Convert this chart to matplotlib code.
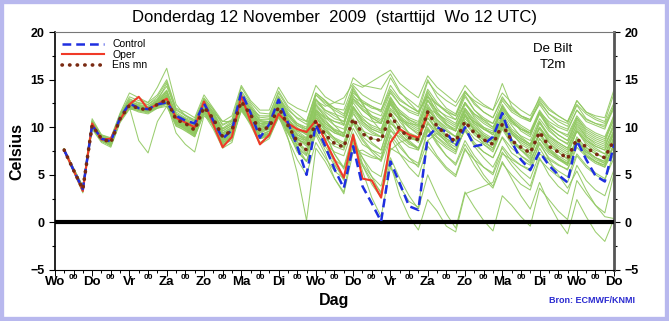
import numpy as np
import matplotlib
matplotlib.use("Agg")
import matplotlib.pyplot as plt
from matplotlib.patches import Rectangle

plt.rcParams['font.family'] = ['Liberation Sans', 'DejaVu Sans']

# --- data (6-hourly, start Wo 12 UTC, first value at +6h) ---
hours = np.arange(6, 361, 6)

day_names = ["Wo", "Do", "Vr", "Za", "Zo", "Ma", "Di", "Wo",
             "Do", "Vr", "Za", "Zo", "Ma", "Di", "Wo", "Do"]

oper = [7.6, 5.5, 3.3, 10.4, 8.7, 8.8, 10.8, 12.4, 13.2, 11.9, 12.4, 13.0,
        11.0, 10.5, 10.0, 12.7, 10.3, 7.9, 9.0, 13.3, 10.6, 8.2, 9.2, 11.4,
        10.4, 9.8, 9.5, 10.7, 8.6, 6.6, 4.7, 9.2, 4.6, 4.4, 2.6, 8.4,
        9.8, 9.2, 8.9, 11.4]

control = [7.6, 5.5, 3.5, 10.2, 8.8, 8.5, 11.0, 12.5, 12.0, 11.9, 12.4, 12.6,
           11.2, 10.7, 10.4, 12.5, 10.7, 8.8, 9.7, 13.7, 11.5, 8.9, 10.3, 12.9,
           10.5, 8.0, 5.0, 10.3, 8.0, 5.6, 3.6, 8.0, 3.8, 2.0, 0.1, 6.4,
           4.1, 1.7, 1.3, 9.0, 10.0, 9.5, 8.0, 10.0, 8.0, 8.2, 9.0, 11.5,
           8.5, 6.6, 5.5, 7.4, 6.0, 5.0, 4.2, 8.6, 6.6, 4.9, 4.3, 8.2]

ens_mean = [7.6, 5.5, 3.5, 10.2, 8.8, 8.4, 10.9, 12.3, 12.0, 11.8, 12.4, 12.9,
            10.8, 10.4, 9.7, 12.1, 10.9, 9.0, 9.7, 12.7, 11.3, 9.7, 10.0, 12.1,
            10.2, 8.5, 7.6, 10.7, 9.2, 8.3, 7.9, 10.9, 9.3, 8.8, 8.6, 11.3,
            9.8, 8.9, 8.7, 11.6, 10.1, 9.2, 8.5, 10.6, 9.4, 8.7, 8.2, 10.3,
            8.6, 7.9, 7.3, 9.5, 8.0, 7.4, 6.7, 8.8, 7.9, 7.2, 6.8, 8.7]

members = [
    [7.7,5.6,3.6,10.5, 9.0,8.6,11.2,12.8, 12.3,12.0,12.6,13.4, 11.2,10.8,10.1,12.6, 11.4,9.6,10.2,13.2, 11.8,10.4,10.6,12.8, 11.0,9.6,8.9,11.8, 10.4,9.7,9.4,12.6, 11.2,10.6,10.4,13.1, 11.6,10.8,10.2,12.9, 11.4,10.3,9.8,11.8, 10.4,9.8,9.2,11.4, 9.8,9.1,8.6,10.9, 9.6,8.8,8.3,10.2, 9.0,8.4,8.0,10.1],
    [7.5,5.4,3.2,9.9, 8.5,8.1,10.6,12.0, 11.6,11.4,12.0,12.4, 10.3,9.8,9.1,11.6, 10.2,8.4,9.0,12.1, 10.6,9.0,9.3,11.4, 9.4,7.6,6.4,9.8, 8.3,7.4,7.0,9.9, 8.2,7.6,7.2,10.1, 8.7,7.9,7.6,10.6, 9.3,8.5,7.9,9.6, 8.2,7.4,6.8,8.9, 7.3,6.6,6.0,8.2, 6.8,6.1,5.5,7.9, 6.9,6.2,5.8,7.6],
    [7.7,5.7,3.8,10.9, 9.2,8.9,11.5,13.6, 13.1,12.6,14.2,16.2, 12.4,11.2,10.8,13.0, 11.9,10.3,10.8,14.2, 12.6,11.5,11.4,13.6, 12.0,10.9,10.3,13.4, 12.6,12.0,11.8,14.4, 13.4,12.8,12.4,15.2, 13.6,12.9,12.1,15.0, 13.2,12.0,11.4,13.8, 12.4,11.6,11.0,13.2, 11.8,11.2,10.6,12.8, 11.4,10.6,10.1,12.3, 10.9,10.4,10.0,12.0],
    [7.6,5.5,3.4,10.1, 8.7,8.2,10.8,12.2, 11.9,11.6,12.2,12.8, 10.6,10.0,9.4,11.9, 10.4,8.6,9.2,12.4, 10.9,9.0,9.6,11.9, 8.9,5.2,0.2,7.8, 6.4,4.6,3.2,8.4, 6.8,5.4,4.8,9.2, 7.9,6.8,6.2,9.8, 8.9,8.0,7.4,10.9, 9.8,9.0,8.6,11.2, 9.4,8.2,7.6,10.0, 8.4,7.6,7.0,9.6, 8.2,7.4,6.6,9.1],
    [7.6,5.5,3.5,10.3, 8.9,8.3,10.9,12.3, 12.0,11.9,12.3,12.6, 10.9,10.5,9.8,12.0, 10.7,8.8,9.5,12.5, 11.0,9.5,9.8,11.6, 9.8,8.0,7.1,9.6, 7.6,6.0,4.8,8.2, 6.0,4.4,3.2,6.8, 4.6,2.8,1.4,5.0, 2.8,0.9,-0.6,3.2, 1.6,0.2,-0.9,2.8, 1.8,0.6,-0.4,3.6, 2.4,1.2,0.3,4.4, 3.0,1.8,1.0,5.2],
    [7.7,5.6,3.6,10.4, 8.9,8.5,11.0,12.6, 12.2,12.1,12.7,13.6, 11.2,10.7,10.0,12.4, 11.2,9.3,9.9,12.9, 11.6,10.1,10.3,12.4, 10.8,9.6,9.4,12.8, 12.2,12.6,13.1,14.6, 14.2,14.8,15.4,16.0, 14.6,13.8,13.1,15.4, 14.2,13.4,12.6,14.4, 13.2,12.4,11.8,13.6, 12.6,11.8,11.2,13.0, 11.8,11.2,10.6,12.4, 11.4,10.8,10.4,12.6],
    [7.6,5.4,3.3,10.0, 8.6,8.0,10.7,12.1, 11.7,11.5,12.1,12.5, 10.2,9.6,9.0,11.4, 9.8,7.8,8.4,11.9, 10.2,8.2,8.8,11.1, 9.6,8.6,8.4,10.6, 8.6,6.2,4.4,8.8, 6.0,4.0,2.6,7.6, 8.4,8.8,8.6,11.0, 9.6,8.8,8.2,10.4, 9.2,8.4,7.8,10.2, 8.6,7.8,7.2,9.4, 7.8,7.0,6.4,8.6, 7.4,6.6,6.2,8.0],
    [7.7,5.6,3.7,10.6, 9.1,8.7,11.3,13.0, 12.5,12.4,13.0,14.3, 11.8,11.2,10.6,12.9, 11.6,9.9,10.6,13.6, 12.2,10.8,10.9,13.1, 11.6,10.4,9.8,12.9, 11.6,10.9,10.6,13.4, 12.0,11.2,10.8,13.2, 11.6,10.6,10.0,12.4, 10.8,9.8,9.0,11.2, 9.6,8.6,7.8,10.2, 8.6,7.6,6.8,9.4, 7.8,6.8,6.0,8.8, 7.2,6.4,5.8,8.2],
    [7.6,5.5,3.5,10.1, 8.7,8.2,10.9,12.1, 8.6,7.3,10.6,12.2, 10.5,10.0,9.3,11.7, 10.6,8.8,9.4,12.3, 11.0,9.6,9.9,12.0, 10.3,8.8,8.0,11.2, 9.6,8.9,8.4,11.4, 10.2,9.4,9.0,12.0, 10.8,10.0,9.4,12.2, 10.6,9.6,9.0,11.2, 9.8,8.8,8.2,10.6, 9.2,8.4,7.8,10.0, 8.6,7.8,7.2,9.6, 8.4,7.6,7.2,9.4],
    [7.5,5.3,3.1,9.8, 8.4,7.9,10.5,11.9, 11.8,11.7,12.2,12.9, 10.4,9.8,9.2,11.8, 10.0,8.1,8.8,11.7, 10.4,8.8,9.2,11.2, 9.8,8.9,8.6,11.0, 10.0,9.4,9.1,11.8, 10.4,9.6,9.0,11.4, 9.8,8.6,7.8,10.0, 8.4,7.0,6.0,8.2, 6.6,5.0,3.8,6.4, 4.6,2.8,1.4,4.2, 2.0,0.2,-1.2,2.4, 0.6,-1.0,-2.0,0.4],
    [7.7,5.5,3.6,10.3, 8.8,8.5,11.1,12.6, 12.1,12.0,12.8,14.6, 11.6,11.0,10.6,12.8, 11.6,10.6,10.6,13.0, 12.0,11.2,11.2,13.8, 12.2,11.4,10.6,13.6, 12.8,11.6,10.2,14.2, 12.6,10.8,9.6,12.8, 11.0,9.2,8.4,11.6, 10.2,9.0,8.6,12.0, 10.8,9.8,9.4,12.4, 10.8,9.6,9.0,11.4, 9.8,8.8,8.2,10.8, 9.4,8.8,8.4,11.0],
    [7.6,5.5,3.4,10.2, 8.8,8.3,10.9,12.3, 11.9,11.8,12.4,12.9, 10.7,10.3,9.6,12.1, 10.8,8.9,9.6,12.6, 11.2,9.6,10.0,12.2, 10.0,8.4,7.2,10.6, 9.4,7.2,5.6,9.0, 5.4,2.6,0.6,5.8, 3.8,2.2,1.6,8.6, 9.4,8.6,8.2,11.4, 9.6,8.2,7.4,9.8, 8.2,7.0,6.2,8.8, 7.6,6.6,6.0,8.6, 7.6,6.8,6.4,8.9],
    [7.7,5.6,3.6,10.4, 8.9,8.4,11.0,12.5, 12.2,12.0,12.6,13.2, 11.0,10.6,9.9,12.3, 11.0,9.2,9.8,12.8, 11.4,10.0,10.1,12.4, 10.8,9.8,9.6,13.4, 12.4,11.8,11.2,13.8, 12.6,12.0,11.8,14.4, 13.0,12.2,11.6,14.8, 13.6,12.8,12.2,13.8, 12.6,11.6,11.0,13.0, 12.0,11.2,10.8,12.4, 11.0,10.2,9.8,11.8, 10.8,10.4,10.2,12.2],
    [7.6,5.4,3.3,10.0, 8.6,8.1,10.7,12.0, 11.8,11.6,12.0,12.2, 10.1,9.7,9.0,11.5, 10.1,8.2,8.9,12.0, 10.5,8.9,9.3,11.3, 9.6,8.2,7.6,10.2, 8.8,8.0,7.6,10.6, 9.0,8.2,7.6,10.8, 9.4,8.4,7.6,9.8, 8.2,7.0,6.2,8.6, 7.0,5.8,5.0,7.4, 6.0,4.8,3.8,6.8, 5.0,3.8,3.0,6.0, 4.4,3.4,2.8,5.6],
    [7.6,5.5,3.5,10.2, 8.8,8.4,11.0,12.4, 12.0,11.9,12.5,13.8, 11.2,10.2,9.4,11.8, 10.6,8.6,9.0,12.4, 10.8,8.8,9.0,11.2, 8.8,6.6,5.0,8.4, 6.8,5.4,4.6,8.0, 7.2,6.8,6.6,10.4, 9.6,9.0,8.8,12.0, 11.4,10.8,10.2,12.6, 11.4,10.6,10.0,12.2, 10.6,9.8,9.2,11.6, 10.0,9.2,8.6,11.0, 9.6,9.0,8.6,11.4],
    [7.7,5.7,3.8,10.7, 9.2,8.8,11.4,13.2, 12.8,12.6,13.4,15.0, 12.0,11.6,11.0,13.4, 12.0,10.6,11.2,14.4, 12.8,11.8,11.8,14.2, 12.6,12.0,11.6,14.4, 13.2,12.6,12.4,15.2, 14.4,14.2,14.0,15.6, 13.8,12.6,11.6,13.4, 11.6,10.4,9.6,11.8, 10.2,9.2,8.6,10.8, 9.6,8.8,8.2,10.6, 9.2,8.4,7.8,10.4, 9.0,8.2,7.8,10.6],
    [7.5,5.4,3.3,10.0, 8.6,8.2,10.8,12.2, 11.9,11.8,12.3,12.7, 10.5,9.9,9.2,11.7, 10.3,8.4,9.1,12.2, 10.6,8.8,9.2,11.4, 9.6,7.4,6.4,9.4, 8.0,6.6,5.8,8.6, 6.8,4.8,3.0,6.2, 2.8,0.6,-0.8,2.4, 1.2,-0.4,-1.0,3.0, 3.4,3.8,4.2,7.2, 6.6,6.0,5.6,8.4, 7.2,6.6,6.2,9.0, 7.8,7.2,6.8,9.6],
    [7.6,5.5,3.5,10.2, 8.8,8.4,10.9,12.3, 12.0,11.8,12.4,13.0, 10.8,10.4,9.7,12.1, 10.9,9.0,9.7,12.7, 11.3,9.7,10.0,12.1, 10.2,8.5,7.6,10.7, 9.2,8.3,7.9,10.9, 9.3,8.8,8.6,11.3, 9.8,8.9,8.7,11.6, 10.1,9.2,8.5,10.6, 9.4,8.7,8.2,10.3, 8.6,7.9,7.3,9.5, 8.0,7.4,6.7,8.8, 7.9,7.2,6.8,8.7],
    [7.7,5.6,3.7,10.5, 9.0,8.6,11.2,12.7, 12.4,12.2,12.9,13.9, 11.4,10.9,10.3,12.7, 11.3,9.6,10.2,13.4, 12.0,10.7,10.8,13.0, 11.4,10.2,9.6,12.4, 11.0,10.2,9.8,12.2, 10.6,9.8,9.4,11.6, 10.2,9.4,9.0,11.8, 10.8,10.0,9.6,12.4, 11.4,10.8,10.4,12.8, 11.6,11.0,10.6,12.6, 11.4,10.8,10.4,12.8, 11.6,11.2,11.0,14.0],
    [7.6,5.5,3.4,10.1, 8.7,8.3,10.8,12.2, 11.9,11.7,12.3,12.8, 10.6,10.1,9.5,11.9, 10.6,8.7,9.3,12.3, 11.0,9.2,9.6,11.8, 10.0,8.0,6.4,9.2, 7.2,4.6,3.0,7.4, 7.6,7.0,6.6,9.6, 9.0,8.2,7.8,10.4, 9.6,8.8,8.2,10.6, 9.8,9.0,8.4,10.6, 8.8,7.6,6.6,8.4, 6.6,5.0,3.6,5.4, 3.4,1.8,0.6,0.4],
    [7.6,5.6,3.6,10.3, 8.9,8.5,11.1,12.5, 12.1,12.0,12.7,13.4, 11.1,10.7,10.2,12.5, 11.1,9.4,10.0,13.0, 11.6,10.2,10.5,12.9, 11.2,10.0,9.2,12.0, 10.8,9.6,9.0,12.0, 11.0,10.0,9.6,12.8, 11.8,11.0,10.6,13.6, 12.4,11.6,11.2,13.6, 12.8,12.2,11.8,14.6, 12.2,11.2,10.8,13.2, 12.0,11.2,10.6,12.8, 11.6,11.0,10.6,13.6],
    [7.6,5.5,3.5,10.2, 8.8,8.4,11.0,12.4, 12.0,11.8,12.3,12.7, 10.6,10.2,9.6,12.0, 10.5,8.2,8.6,12.0, 10.4,8.4,9.0,11.0, 9.4,7.8,7.0,10.2, 9.2,7.2,5.8,9.4, 6.2,4.8,3.8,7.8, 7.2,6.4,6.0,9.6, 8.6,7.8,7.2,10.0, 8.8,8.2,7.6,10.0, 8.4,7.6,7.0,9.2, 7.6,6.8,6.2,8.4, 7.0,6.4,6.0,8.2],
    [7.7,5.7,3.7,10.6, 9.1,8.7,11.2,12.9, 12.6,12.4,13.2,14.8, 11.9,11.3,10.7,13.1, 11.8,10.2,10.7,13.8, 12.4,11.0,11.1,13.3, 11.4,10.2,9.8,12.6, 11.8,11.4,11.0,13.6, 12.8,12.2,11.6,13.8, 12.4,11.6,11.2,13.8, 12.0,11.0,10.4,12.6, 11.2,10.4,9.8,12.0, 10.4,9.8,9.4,11.6, 10.2,9.6,9.2,11.2, 10.0,9.4,9.0,11.2],
    [7.6,5.5,3.5,10.2, 8.8,8.3,10.9,12.2, 11.9,11.7,12.3,12.6, 9.4,8.2,7.4,11.2, 10.4,8.4,9.0,12.0, 10.6,9.0,9.4,11.8, 10.4,9.2,8.6,11.6, 10.4,9.6,9.2,12.0, 10.6,9.8,9.4,12.4, 11.2,10.4,9.8,12.8, 11.2,10.2,9.6,11.6, 10.4,9.4,8.8,11.0, 9.6,8.8,8.2,10.6, 9.0,8.2,7.6,10.0, 8.8,8.0,7.6,9.8],
    [7.6,5.5,3.5,10.3, 8.9,8.5,11.0,12.4, 12.1,11.9,12.5,13.1, 10.9,10.5,9.8,12.2, 11.0,9.2,9.8,12.9, 11.4,9.8,10.2,12.4, 10.6,9.2,8.6,11.6, 10.2,9.4,9.0,12.2, 10.8,10.2,9.8,12.6, 11.0,10.2,9.6,12.0, 10.4,9.6,9.0,11.4, 10.0,9.2,8.6,11.0, 9.4,8.6,8.0,10.4, 9.0,8.4,7.8,9.8, 8.6,8.0,7.6,9.6],
    [7.6,5.4,3.4,10.1, 8.7,8.3,10.8,12.2, 11.8,11.6,12.2,12.6, 10.5,10.1,9.5,11.9, 10.4,8.6,9.2,12.2, 10.8,9.2,9.6,11.8, 10.2,9.0,8.4,11.8, 10.6,9.8,9.4,12.8, 11.8,11.0,10.4,13.0, 11.2,10.0,9.2,11.4, 9.6,8.4,7.6,9.8, 8.4,7.4,6.8,9.0, 7.8,7.0,6.4,8.8, 7.4,6.8,6.2,8.4, 7.0,6.4,6.0,8.4],
    [7.7,5.6,3.6,10.4, 8.9,8.6,11.1,12.6, 12.2,12.0,12.7,13.8, 11.4,10.8,10.2,12.6, 11.4,9.8,10.4,13.4, 12.0,10.6,10.6,12.8, 11.2,10.4,10.0,13.0, 11.8,11.2,10.6,13.0, 11.8,11.0,10.4,12.6, 11.4,10.8,10.4,12.8, 11.8,11.2,10.8,13.2, 11.8,11.0,10.4,12.2, 10.8,10.0,9.4,11.6, 10.6,10.0,9.6,11.8, 10.6,10.2,9.8,12.4],
    [7.5,5.4,3.3,10.0, 8.6,8.2,10.7,12.1, 11.8,11.7,12.2,12.5, 10.3,9.9,9.3,11.8, 10.2,8.3,9.0,11.9, 10.5,9.0,9.4,11.6, 9.9,8.8,8.2,11.0, 9.6,8.6,8.0,10.4, 8.6,7.4,6.4,9.0, 7.2,5.8,4.8,8.0, 6.8,5.6,4.8,7.6, 6.6,5.8,5.2,8.0, 6.8,6.0,5.4,7.8, 6.2,5.4,4.8,7.2, 6.0,5.2,4.6,6.8],
    [7.6,5.5,3.5,10.2, 8.8,8.4,11.0,12.4, 12.0,11.9,12.4,13.0, 10.8,10.3,9.7,12.2, 10.8,9.0,9.6,12.8, 11.6,10.4,10.6,13.2, 11.8,11.0,10.6,13.6, 12.8,12.0,11.4,14.0, 12.4,11.2,10.6,12.4, 10.6,9.4,8.8,11.0, 9.8,9.0,8.6,11.2, 10.6,10.0,9.6,12.0, 11.0,10.2,9.6,11.8, 10.4,9.6,9.0,11.0, 9.8,9.2,8.8,10.8],
    [7.7,5.6,3.7,10.5, 9.0,8.6,11.2,12.7, 12.3,12.2,12.8,13.6, 11.4,10.9,10.4,12.8, 11.5,9.8,10.4,13.2, 11.8,10.4,10.4,12.6, 10.6,9.4,8.8,11.4, 9.8,8.8,8.2,10.8, 9.6,9.2,9.0,11.8, 10.8,10.4,10.2,13.2, 12.4,11.8,11.2,13.4, 11.8,10.8,10.0,11.6, 10.2,9.0,8.2,9.8, 8.4,7.4,6.6,8.6, 7.6,6.8,6.2,8.0],
    [7.6,5.5,3.4,10.1, 8.7,8.2,10.8,12.2, 11.9,11.7,12.3,12.8, 10.6,10.2,9.6,12.0, 10.6,8.7,9.4,12.4, 11.1,9.4,9.8,12.0, 10.2,8.8,8.2,11.4, 10.0,8.8,7.8,10.6, 8.8,7.6,6.8,9.8, 8.2,6.8,5.8,8.6, 7.0,5.8,5.0,7.8, 6.0,4.6,3.6,6.2, 5.0,4.0,3.4,6.6, 5.6,4.8,4.2,7.0, 5.8,5.0,4.4,7.4],
    [7.7,5.6,3.6,10.4, 8.9,8.5,11.1,12.5, 12.1,12.0,12.6,13.3, 11.0,10.6,10.0,12.4, 11.2,9.4,10.0,13.0, 11.6,10.2,10.4,12.6, 10.8,9.8,9.4,12.2, 11.2,10.6,10.2,13.0, 12.2,11.6,11.2,13.6, 12.4,11.8,11.4,14.0, 12.6,11.6,10.8,12.6, 11.0,10.0,9.2,10.8, 9.4,8.6,8.0,10.0, 8.8,8.0,7.4,9.6, 8.6,7.8,7.2,9.4],
    [7.6,5.5,3.5,10.2, 8.8,8.4,10.9,12.3, 12.0,11.8,12.5,13.2, 10.9,10.4,9.8,12.2, 10.8,9.0,9.6,12.6, 11.4,10.0,10.2,12.6, 10.8,9.8,9.2,12.4, 11.4,10.2,9.2,11.6, 9.8,8.4,7.6,10.6, 9.2,8.4,7.8,10.4, 9.0,8.2,7.6,9.8, 8.0,6.8,5.8,7.8, 6.4,5.4,4.6,7.2, 6.6,6.0,5.6,8.2, 7.4,6.8,6.4,9.0],
    [7.6,5.5,3.5,10.3, 8.9,8.4,11.0,12.4, 12.1,11.9,12.4,12.9, 10.8,10.4,9.8,12.2, 10.9,9.1,9.7,12.6, 11.2,9.8,10.2,12.2, 10.4,9.2,8.8,11.8, 11.0,10.6,10.4,13.2, 12.6,12.2,11.8,14.0, 12.8,12.2,11.6,13.2, 11.6,10.6,10.0,12.0, 10.6,9.8,9.4,11.8, 10.6,9.8,9.4,11.4, 10.0,9.2,8.6,10.6, 9.2,8.6,8.2,10.2],
]

# --- figure ---
fig = plt.figure(figsize=(6.69, 3.21), dpi=100)
ax = fig.add_axes([0.082, 0.159, 0.836, 0.741])

for m in members:
    ax.plot(hours, m, color='#90c860', lw=0.75, alpha=0.9, zorder=2)

ax.axhline(0, color='black', lw=3, zorder=3)

ax.plot(hours[:len(oper)], oper, color='#f03a28', lw=1.5, label='Oper', zorder=4)
ax.plot(hours, control, color='#1f2fe0', lw=1.8, ls=(0, (3.5, 2)), label='Control', zorder=5)
ax.plot(hours, ens_mean, color='#7a2a12', lw=2.6, ls=(0, (0.1, 2.0)),
        dash_capstyle='round', label='Ens mn', zorder=6)

ax.set_xlim(0, 360)
ax.set_ylim(-5, 20)
ax.set_yticks(np.arange(-5, 21, 5))
ax.set_yticks(np.arange(-5, 21, 2.5), minor=True)
ax.set_xticks(np.arange(0, 361, 12))
ax.set_xticks(np.arange(0, 361, 6), minor=True)
ax.set_xticklabels([])
ax.tick_params(axis='y', which='both', left=True, right=True, labelleft=True, labelright=True,
               direction='out', labelsize=9, width=0.8)
ax.tick_params(axis='y', which='major', length=4)
ax.tick_params(axis='y', which='minor', length=2)
ax.tick_params(axis='x', which='major', direction='out', length=4, width=0.7)
ax.tick_params(axis='x', which='minor', direction='out', length=2.5, width=0.7)
for lab in ax.get_yticklabels():
    lab.set_fontweight('bold')

ax.spines['right'].set_color('#555555')
ax.spines['right'].set_linewidth(2)
ax.spines['top'].set_color('#777777')
ax.spines['left'].set_linewidth(1.2)

# day labels at 12 UTC, "00" at midnight
for k, name in enumerate(day_names):
    ax.text(k * 24, -5.6, name, ha='center', va='top', fontsize=9.5, fontweight='bold')
for k in range(15):
    ax.text(k * 24 + 12, -5.4, '00', ha='center', va='top', fontsize=6, fontweight='bold')

ax.set_xlabel('Dag', fontsize=11.5, fontweight='bold', labelpad=9)
ax.set_ylabel('Celsius', fontsize=11.5, fontweight='bold', labelpad=4)

fig.text(0.5, 0.945, 'Donderdag 12 November  2009  (starttijd  Wo 12 UTC)',
         ha='center', va='center', fontsize=12)
ax.text(0.89, 0.955, 'De Bilt', transform=ax.transAxes, ha='center', va='top', fontsize=9.5)
ax.text(0.89, 0.885, 'T2m', transform=ax.transAxes, ha='center', va='top', fontsize=9.5)
fig.text(0.885, 0.065, 'Bron: ECMWF/KNMI', ha='center', va='center', fontsize=6.5,
         color='#2a2ad0', fontweight='bold')

leg = ax.legend(handles=[ax.lines[-2], ax.lines[-3], ax.lines[-1]],
                loc='upper left', bbox_to_anchor=(0.0, 1.0), frameon=False,
                fontsize=7.5, handlelength=4, labelspacing=0.05, borderaxespad=0.3)

fig.patches.append(Rectangle((0, 0), 1, 1, transform=fig.transFigure, fill=False,
                             edgecolor='#b8b8ee', lw=6, zorder=10))

fig.savefig('out.png', dpi=100)
